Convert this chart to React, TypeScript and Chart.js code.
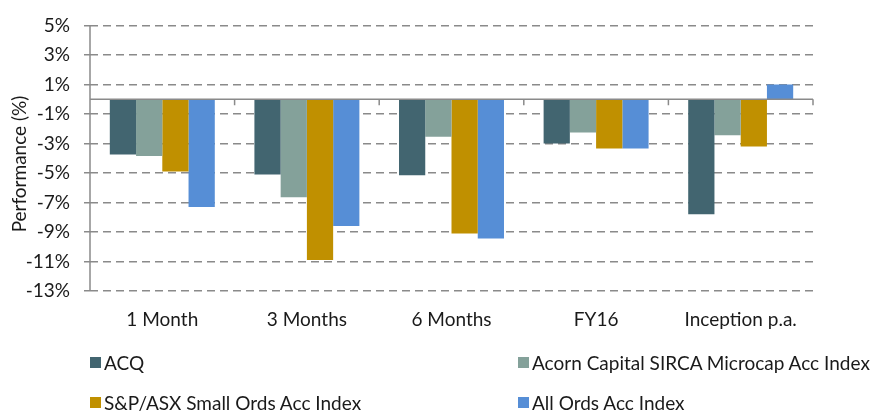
import React, { useEffect, useRef } from "react";
import { Chart, registerables } from "chart.js";

Chart.register(...registerables);

const categories = ["1 Month", "3 Months", "6 Months", "FY16", "Inception p.a."];
const seriesNames = [
  "ACQ",
  "Acorn Capital SIRCA Microcap Acc Index",
  "S&P/ASX Small Ords Acc Index",
  "All Ords Acc Index",
];
const acqValues = [-3.75, -5.1, -5.15, -3.0, -7.8];
const acornValues = [-3.85, -6.65, -2.55, -2.25, -2.45];
const smallOrdsValues = [-4.9, -10.9, -9.1, -3.35, -3.2];
const allOrdsValues = [-7.3, -8.6, -9.45, -3.35, 1.0];
const yTickValues = [5, 3, 1, -1, -3, -5, -7, -9, -11, -13];
const colors = ["#426570", "#84A19A", "#C09000", "#568ED6"];

const FONT = "Lato, 'Open Sans', sans-serif";
const FS = 19;
const GRID = "#8a8a8a";

const decor = {
  id: "decor",
  afterDatasetsDraw(chart: any) {
    const { ctx, chartArea, scales } = chart;
    const y = scales.y;
    const y0 = y.getPixelForValue(0);
    ctx.save();
    ctx.strokeStyle = GRID;
    ctx.lineWidth = 1.5;
    ctx.setLineDash([]);
    ctx.beginPath();
    ctx.moveTo(chartArea.left, y0);
    ctx.lineTo(chartArea.right, y0);
    const n = categories.length;
    const w = (chartArea.right - chartArea.left) / n;
    for (let i = 1; i <= n; i++) {
      const x = chartArea.left + i * w;
      ctx.moveTo(x, y0);
      ctx.lineTo(x, y0 + 6);
    }
    ctx.moveTo(chartArea.left, chartArea.top);
    ctx.lineTo(chartArea.left, chartArea.bottom);
    ctx.stroke();
    // y title
    ctx.fillStyle = "#1a1a1a";
    ctx.font = `${FS}px ${FONT}`;
    ctx.textAlign = "center";
    ctx.textBaseline = "middle";
    ctx.translate(20, 164);
    ctx.rotate(-Math.PI / 2);
    ctx.fillText("Performance (%)", 0, 0);
    ctx.restore();
  },
};

export default function App() {
  const ref = useRef<HTMLCanvasElement>(null);
  useEffect(() => {
    const valuesList = [acqValues, acornValues, smallOrdsValues, allOrdsValues];
    const chart = new Chart(ref.current!, {
      type: "bar",
      data: {
        labels: categories,
        datasets: seriesNames.map((name, i) => ({
          label: name,
          data: valuesList[i],
          backgroundColor: colors[i],
          borderWidth: 0,
          barPercentage: 1,
          categoryPercentage: 0.726,
        })),
      },
      options: {
        animation: false,
        responsive: false,
        maintainAspectRatio: false,
        layout: { padding: { top: 23, left: 0, right: 67, bottom: 0 } },
        plugins: { legend: { display: false }, tooltip: { enabled: false } },
        scales: {
          x: {
            grid: { display: false, drawTicks: false },
            border: { display: false },
            ticks: { color: "#1a1a1a", font: { family: FONT, size: FS }, padding: 17, maxRotation: 0 },
            afterFit: (s: any) => {
              s.height = 121;
            },
          },
          y: {
            min: -13,
            max: 5,
            afterBuildTicks: (s: any) => {
              s.ticks = yTickValues.map((v) => ({ value: v }));
            },
            afterFit: (s: any) => {
              s.width = 90;
            },
            grid: {
              color: GRID,
              lineWidth: 1.5,
              tickLength: 6,
              tickColor: GRID,
              tickBorderDash: [],
              drawTicks: true,
            },
            border: { display: false, dash: [8, 5] },
            ticks: {
              color: "#1a1a1a",
              font: { family: FONT, size: FS },
              padding: 14,
              callback: (v: any) => `${v}%`,
            },
          },
        },
      },
      plugins: [decor],
    });
    return () => chart.destroy();
  }, []);

  const legendPos = [
    { x: 90, y: 362 },
    { x: 518, y: 362 },
    { x: 90, y: 402 },
    { x: 518, y: 402 },
  ];

  return (
    <div style={{ position: "absolute", left: 0, top: 0, width: 880, height: 412, background: "#fff" }}>
      <canvas ref={ref} width={880} height={412} style={{ position: "absolute", left: 0, top: 0 }} />
      {seriesNames.map((name, i) => (
        <div
          key={name}
          style={{
            position: "absolute",
            left: legendPos[i].x,
            top: legendPos[i].y - 12,
            height: 24,
            display: "flex",
            alignItems: "center",
            fontFamily: FONT,
            fontSize: FS,
            color: "#1a1a1a",
            whiteSpace: "nowrap",
          }}
        >
          <span style={{ display: "inline-block", width: 11, height: 11, background: colors[i], marginRight: 3 }} />
          <span>{name}</span>
        </div>
      ))}
    </div>
  );
}
